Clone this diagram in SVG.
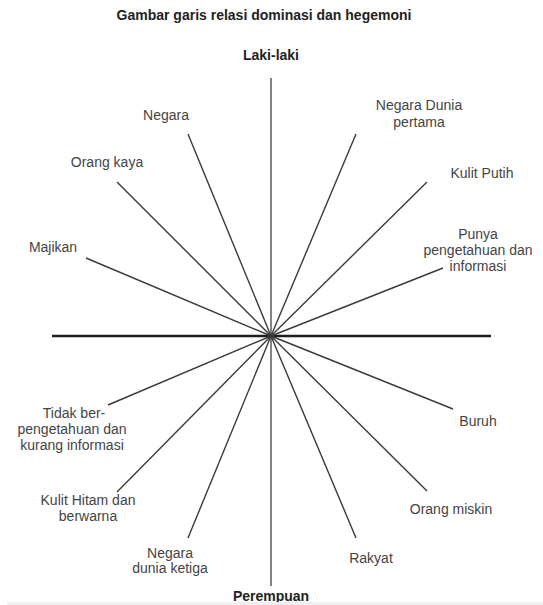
<svg xmlns="http://www.w3.org/2000/svg" width="543" height="605" viewBox="0 0 543 605">
<style>
.t{font-family:"Liberation Sans",Arial,sans-serif;font-size:14px;fill:#444;text-anchor:middle}
.b{font-family:"Liberation Sans",Arial,sans-serif;font-size:14px;font-weight:bold;fill:#222;text-anchor:middle}
.ray{stroke:#3a3a3a;stroke-width:1.4;fill:none}
</style>
<rect width="543" height="605" fill="#fff"/>
<text class="b" x="264" y="20">Gambar garis relasi dominasi dan hegemoni</text>
<g id="connectors">
<line x1="271" y1="78" x2="271" y2="586" stroke="#777" stroke-width="1.8"/>
<line x1="52" y1="336" x2="491" y2="336" stroke="#1e1e1e" stroke-width="2.6"/>
<line class="ray" x1="271" y1="336" x2="188" y2="134"/>
<line class="ray" x1="271" y1="336" x2="117" y2="182"/>
<line class="ray" x1="271" y1="336" x2="86" y2="258"/>
<line class="ray" x1="271" y1="336" x2="356" y2="134"/>
<line class="ray" x1="271" y1="336" x2="427" y2="182"/>
<line class="ray" x1="271" y1="336" x2="443" y2="268"/>
<line class="ray" x1="271" y1="336" x2="108" y2="405"/>
<line class="ray" x1="271" y1="336" x2="117" y2="492"/>
<line class="ray" x1="271" y1="336" x2="188" y2="538"/>
<line class="ray" x1="271" y1="336" x2="453" y2="409"/>
<line class="ray" x1="271" y1="336" x2="427" y2="491"/>
<line class="ray" x1="271" y1="336" x2="356" y2="538"/>
</g>
<g id="laki"><text class="b" x="271" y="60">Laki-laki</text></g>
<g id="perempuan"><text class="b" x="271" y="601">Perempuan</text></g>
<g id="negara"><text class="t" x="166" y="120">Negara</text></g>
<g id="orang-kaya"><text class="t" x="107" y="167">Orang kaya</text></g>
<g id="majikan"><text class="t" x="53" y="252">Majikan</text></g>
<g id="negara-dunia-pertama"><text class="t" x="419" y="110">Negara Dunia</text><text class="t" x="419" y="127">pertama</text></g>
<g id="kulit-putih"><text class="t" x="482" y="178">Kulit Putih</text></g>
<g id="punya"><text class="t" x="478" y="239">Punya</text><text class="t" x="478" y="255">pengetahuan dan</text><text class="t" x="478" y="271">informasi</text></g>
<g id="tidak"><text class="t" x="74" y="418">Tidak ber-</text><text class="t" x="72" y="434">pengetahuan dan</text><text class="t" x="72" y="450">kurang informasi</text></g>
<g id="kulit-hitam"><text class="t" x="88" y="505">Kulit Hitam dan</text><text class="t" x="88" y="521">berwarna</text></g>
<g id="negara-ketiga"><text class="t" x="170" y="558">Negara</text><text class="t" x="170" y="573">dunia ketiga</text></g>
<g id="buruh"><text class="t" x="478" y="426">Buruh</text></g>
<g id="orang-miskin"><text class="t" x="451" y="514">Orang miskin</text></g>
<g id="rakyat"><text class="t" x="371" y="563">Rakyat</text></g>
<rect x="7" y="602" width="536" height="3" fill="#efefef"/>
</svg>
